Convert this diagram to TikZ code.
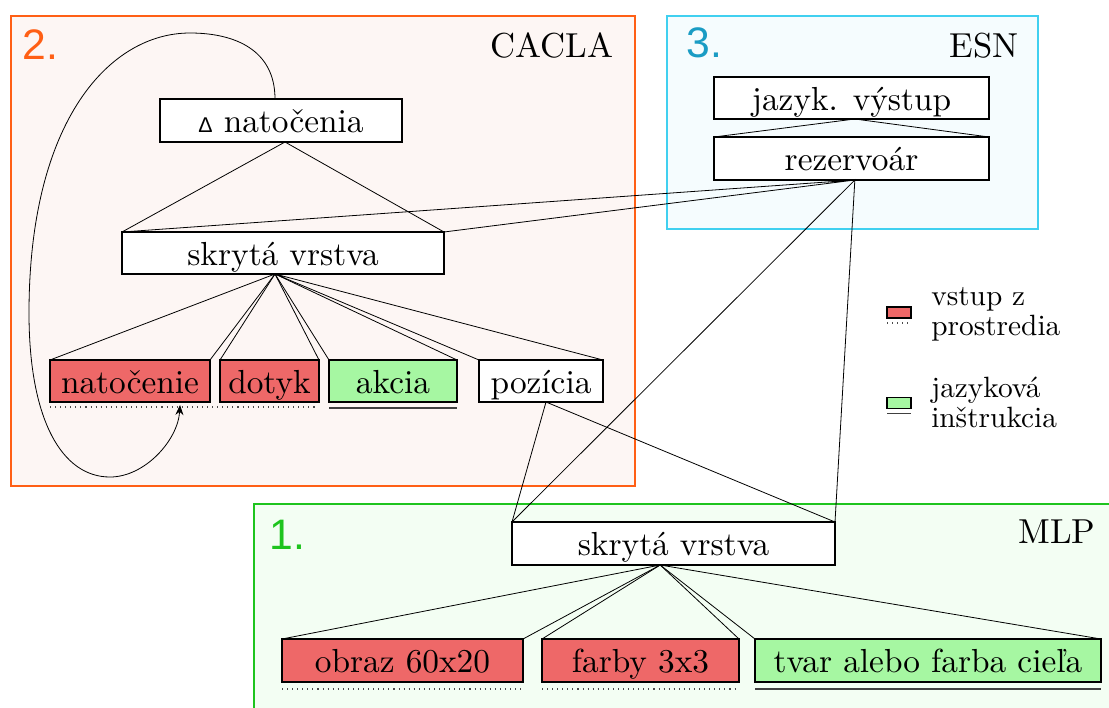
\documentclass[tikz,border=0pt]{standalone}
\usepackage{fontspec}
\setmainfont{lmroman10-regular}[Extension=.otf]
\newfontfamily\numfont{Liberation Sans}
\usetikzlibrary{arrows.meta}

\definecolor{caclaC}{HTML}{FF5F15}
\definecolor{caclaBg}{HTML}{FDF6F4}
\definecolor{esnC}{HTML}{40D0F0}
\definecolor{esnBg}{HTML}{F5FCFE}
\definecolor{esnNum}{HTML}{1A9CC4}
\definecolor{mlpC}{HTML}{1EC41E}
\definecolor{mlpBg}{HTML}{F3FEF3}
\definecolor{envFill}{HTML}{EE6868}
\definecolor{instrFill}{HTML}{A6F7A2}

\begin{document}
\begin{tikzpicture}[x=0.75pt,y=-0.75pt,
  unit/.style={draw=black, line width=0.8pt, inner sep=0pt, outer sep=0pt,
    font=\fontsize{25}{30}\selectfont, text height=18pt, text depth=0pt},
  wh/.style 2 args={minimum width={#1*0.75pt}, minimum height={#2*0.75pt}},
  env/.style={unit, fill=envFill},
  instr/.style={unit, fill=instrFill},
  plain/.style={unit, fill=white},
  link/.style={line width=0.6pt, black},
  envline/.style={draw=black!70, line width=0.8pt, dash pattern=on 0.8pt off 3pt},
  instrline/.style={draw=black!75, line width=1pt},
  title/.style={font=\fontsize{26}{30}\selectfont},
  num/.style={font=\numfont\fontsize{32}{36}\selectfont},
  legend/.style={font=\fontsize{22}{22.5}\selectfont, align=left, inner sep=0pt}
]
\useasboundingbox (0,0) rectangle (1109,707);
\fill[white] (0,0) rectangle (1109,707);

% module frames
\draw[draw=caclaC, fill=caclaBg, line width=1.5pt] (11,16) rectangle (635,486);
\draw[draw=esnC, fill=esnBg, line width=1.2pt] (667,16) rectangle (1038,229);
\draw[draw=mlpC, fill=mlpBg, line width=1.5pt] (254,504) rectangle (1120,720);

\node[num, text=caclaC, anchor=base west] (n2) at (18,59) {2.};
\node[num, text=esnNum, anchor=base west] (n3) at (682,57) {3.};
\node[num, text=mlpC, anchor=base west] (n1) at (265,549) {1.};
\node[title, anchor=base east] (tCacla) at (618,57) {CACLA};
\node[title, anchor=base east] (tEsn) at (1023,57) {ESN};
\node[title, anchor=base east] (tMlp) at (1100,543) {MLP};

% CACLA network
\node[plain, wh={242}{43}] (delta) at (281,120.5) {{\numfont\fontsize{16}{16}\selectfont Δ} natočenia};
\node[plain, wh={322}{42}] (hidC) at (283,253) {skrytá vrstva};
\node[env, wh={160}{42}] (natoc) at (130,381) {natočenie};
\node[env, wh={99}{42}] (dotyk) at (269.5,381) {dotyk};
\node[instr, wh={128}{42}] (akcia) at (393,381) {akcia};
\node[plain, wh={124}{42}] (pozicia) at (541,381) {pozícia};

% ESN
\node[plain, wh={275}{42}] (jazyk) at (851.5,98) {jazyk. výstup};
\node[plain, wh={275}{43}] (rez) at (851.5,158.5) {rezervoár};

% MLP
\node[plain, wh={323}{43}] (hidM) at (673.5,543.5) {skrytá vrstva};
\node[env, wh={241}{43}] (obraz) at (402.5,660.5) {obraz 60x20};
\node[env, wh={197}{43}] (farby) at (640.5,660.5) {farby 3x3};
\node[instr, wh={346}{43}] (tvar) at (928,660.5) {tvar alebo farba cieľa};

% connections
\draw[link] (hidC.north west) -- ([xshift=3pt]delta.south) -- (hidC.north east);
\draw[link] (rez.north west) -- ([xshift=2.5pt]jazyk.south) -- (rez.north east);
\draw[link] (hidC.north west) -- ([xshift=2.5pt]rez.south) -- (hidC.north east);
\draw[link] (hidM.north west) -- ([xshift=2.5pt]rez.south) -- (hidM.north east);
\foreach \t in {natoc,dotyk,akcia,pozicia}
  \draw[link] (\t.north west) -- ([xshift=-6pt]hidC.south) -- (\t.north east);
\draw[link] (hidM.north west) -- ([xshift=3.75pt]pozicia.south) -- (hidM.north east);
\foreach \t in {obraz,farby,tvar}
  \draw[link] (\t.north west) -- ([xshift=-10pt]hidM.south) -- (\t.north east);

% recurrent feedback of the orientation
\draw[link, -{Stealth[length=7.5pt,width=6pt]}] ([xshift=-4.5pt]delta.north)
  .. controls (275,50) and (235,33) .. (190,33)
  .. controls (110,33) and (29,120) .. (29,313)
  .. controls (29,420) and (62,477) .. (110,477)
  .. controls (145,477) and (178,440) .. ([xshift=37.5pt,yshift=-2.25pt]natoc.south);

% input markers
\draw[envline] ([yshift=-3.75pt]natoc.south west) -- ([yshift=-3.75pt,xshift=-2pt]dotyk.south east);
\draw[instrline] ([yshift=-4.5pt]akcia.south west) -- ([yshift=-4.5pt]akcia.south east);
\draw[envline] ([yshift=-5.25pt]obraz.south west) -- ([yshift=-5.25pt]obraz.south east);
\draw[envline] ([yshift=-5.25pt]farby.south west) -- ([yshift=-5.25pt]farby.south east);
\draw[instrline] ([yshift=-5.25pt]tvar.south west) -- ([yshift=-5.25pt]tvar.south east);

% legend
\node[draw=black, line width=0.8pt, fill=envFill, inner sep=0pt, outer sep=0pt,
  minimum width=18pt, minimum height=8.25pt] (legEnv) at (899,312.5) {};
\draw[envline] ([yshift=-3.75pt]legEnv.south west) -- ([yshift=-3.75pt]legEnv.south east);
\node[legend, anchor=base west] (legEnvText) at (931,335) {vstup z\\prostredia};
\node[draw=black, line width=0.8pt, fill=instrFill, inner sep=0pt, outer sep=0pt,
  minimum width=18pt, minimum height=8.25pt] (legInstr) at (899,403) {};
\draw[instrline] ([yshift=-3.75pt]legInstr.south west) -- ([yshift=-3.75pt]legInstr.south east);
\node[legend, anchor=base west] (legInstrText) at (931,427) {jazyková\\inštrukcia};
\end{tikzpicture}
\end{document}
